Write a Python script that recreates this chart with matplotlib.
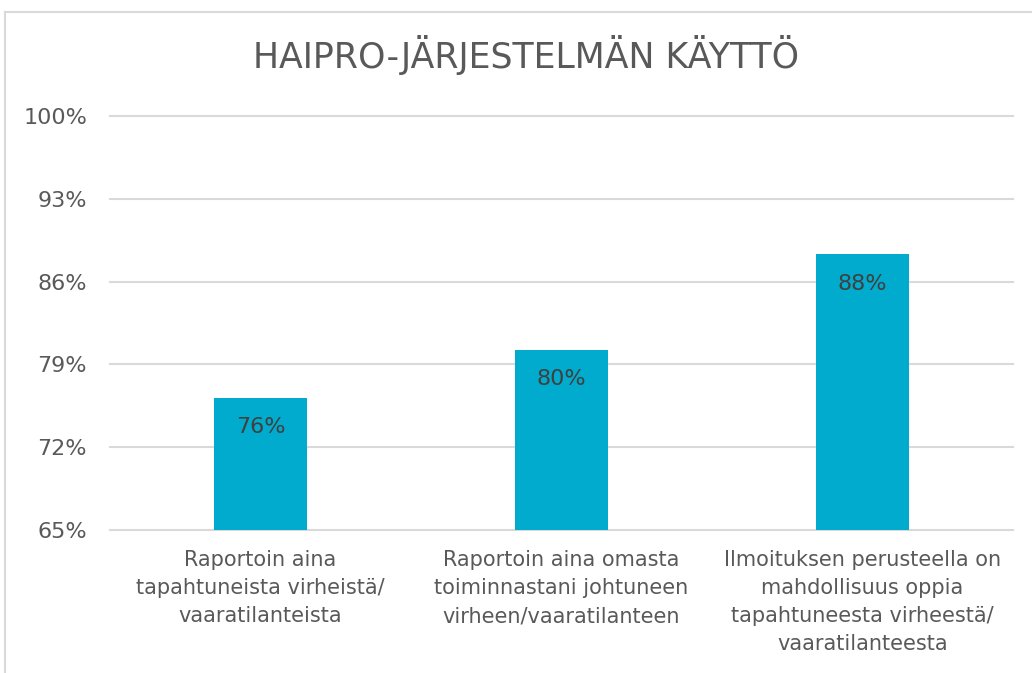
import matplotlib
matplotlib.use("Agg")
import matplotlib.pyplot as plt
from matplotlib.lines import Line2D
from matplotlib.ticker import FuncFormatter

categories = [
    "Raportoin aina\ntapahtuneista virheistä/\nvaaratilanteista",
    "Raportoin aina omasta\ntoiminnastani johtuneen\nvirheen/vaaratilanteen",
    "Ilmoituksen perusteella on\nmahdollisuus oppia\ntapahtuneesta virheestä/\nvaaratilanteesta",
]
values = [76.2, 80.2, 88.3]
labels = ["76%", "80%", "88%"]
yticks = [65, 72, 79, 86, 93, 100]
title = "HAIPRO-JÄRJESTELMÄN KÄYTTÖ"

bar_color = "#00ABCD"
text_color = "#595959"

plt.rcParams['font.family'] = ['DejaVu Sans']
fig = plt.figure(figsize=(10.32, 6.73), dpi=100)
ax = fig.add_axes([0.1066, 0.2125, 0.875, 0.6151])

x = list(range(len(categories)))
bars = ax.bar(x, values, width=0.31, color=bar_color, zorder=3)
ax.set_ylim(65, 100)
ax.set_xlim(-0.5, 2.5)
ax.set_yticks(yticks)
ax.yaxis.set_major_formatter(FuncFormatter(lambda v, p: f"{v:.0f}%"))
ax.grid(axis='y', color='#D9D9D9', linewidth=1.5, zorder=0)
for gl in ax.get_ygridlines():
    gl.set_clip_on(False)
for s in ax.spines.values():
    s.set_visible(False)
ax.tick_params(axis='y', length=0, pad=16.5, labelsize=16, labelcolor=text_color)
ax.tick_params(axis='x', length=0, pad=14.5)
ax.set_xticks(x)
ax.set_xticklabels(categories, fontsize=15, color=text_color, linespacing=1.5, va='top')

for b, lab in zip(bars, labels):
    ax.annotate(lab, (b.get_x() + b.get_width() / 2, b.get_height()),
                xytext=(0, -21), textcoords='offset points', ha='center', va='center',
                fontsize=16, color='#404040', zorder=4)

fig.text(0.51, 0.918, title, ha='center', va='center', fontsize=25,
         color=text_color)

fig.add_artist(Line2D([5/1032, 5/1032], [0, 1 - 12/673], transform=fig.transFigure, color='#D9D9D9', lw=1.5))
fig.add_artist(Line2D([5/1032, 1], [1 - 12/673, 1 - 12/673], transform=fig.transFigure, color='#D9D9D9', lw=1.5))

fig.savefig("out.png", dpi=100)
